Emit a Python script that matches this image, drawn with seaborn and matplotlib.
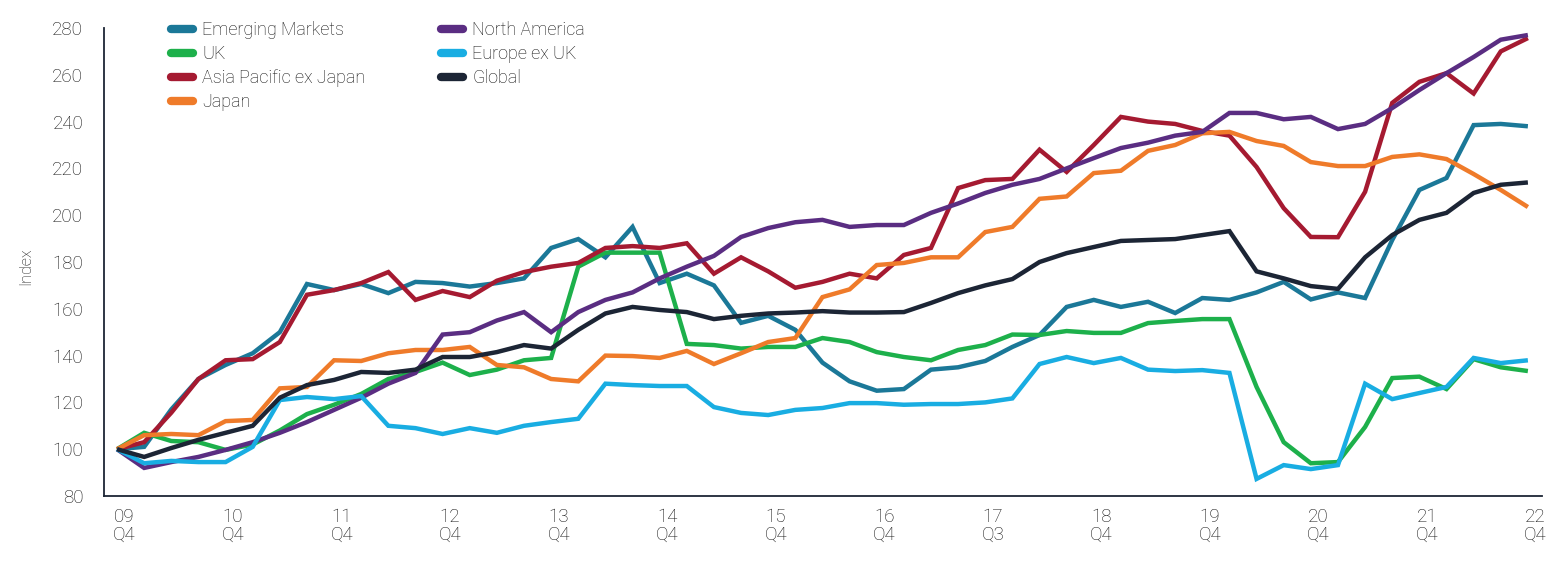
import numpy as np
import pandas as pd
import matplotlib
matplotlib.use("Agg")
import matplotlib.pyplot as plt
import seaborn as sns
from matplotlib.lines import Line2D
from matplotlib.transforms import ScaledTranslation

emerging = [100, 101, 117, 130, 136, 141, 150, 170.6, 168, 170.6, 166.7, 171.5, 171, 169.5, 171, 173, 186, 189.8, 182, 195,
            171, 175, 170, 154, 157, 151, 137, 129, 125, 125.7, 134, 135, 137.7, 143.7, 148.8, 160.8, 163.8, 160.8, 163, 158.2,
            164.6, 163.8, 167, 171.5, 164, 167, 164.6, 189.4, 210.8, 215.9, 238.5, 239, 238]
uk = [100, 107, 103.5, 103, 99.7, 102, 108, 115, 119, 123.6, 130, 133, 137, 131.7, 134, 138, 139, 178, 184, 184,
      184, 145, 144.5, 143, 143.7, 143.7, 147.5, 145.8, 141.5, 139.4, 138, 142.4, 144.5, 149, 148.8, 150.5, 149.7, 149.7, 153.9, 154.8,
      155.6, 155.6, 126.6, 103, 94, 94.5, 109.5, 130.4, 131, 125.7, 138.5, 135, 133.4]
asia_pac = [100, 103, 115.6, 130, 138, 138.5, 145.8, 166, 168, 171, 175.7, 163.8, 167.6, 165, 172, 175.7, 178, 179.6, 186, 186.8,
            186, 188, 175, 182, 176, 169, 171.5, 175, 173, 183, 186, 211.6, 215, 215.5, 228, 218.5, 230, 242, 240, 239,
            236, 234, 220.6, 203, 190.7, 190.6, 210, 248, 257, 260.7, 252, 270, 275.7]
japan = [100, 106, 106.5, 106, 112, 112.5, 126, 126.6, 138, 137.7, 141, 142.4, 142.4, 143.7, 136, 135, 130, 129, 140, 139.8,
         139, 142, 136.4, 141, 145.8, 147.5, 165, 168.3, 178.7, 179.6, 182, 182, 192.8, 195, 207, 208, 218, 219, 227.5, 230,
         235, 235.6, 231.7, 229.6, 222.7, 221, 221, 224.9, 226, 224, 217.6, 210.8, 203.5]
north_america = [100, 92, 94.5, 96.7, 99.7, 103, 107, 111.6, 116.8, 122, 128, 132.6, 149, 150, 155, 158.6, 150, 158.6, 163.8, 167,
                 173, 178, 182.6, 190.7, 194.5, 197, 198, 195, 195.8, 195.8, 201, 205, 209.5, 213, 215.5, 220, 224.4, 228.7, 231, 234,
                 235.6, 243.7, 243.7, 241, 242, 236.8, 239, 245.8, 253.5, 260.7, 267.6, 275, 277]
europe_ex_uk = [100, 94, 95, 94.5, 94.5, 101, 121, 122.3, 121.4, 122.7, 110, 109, 106.5, 109, 107, 110, 111.6, 113, 128, 127.4,
                127, 127, 118, 115.5, 114.6, 116.8, 117.6, 119.7, 119.7, 119, 119.3, 119.3, 120, 121.7, 136.4, 139.4, 136.8, 139, 134, 133.4,
                133.8, 132.6, 87.3, 93.2, 91.5, 93.2, 128, 121.4, 124, 126.6, 139, 136.8, 138]
global_ = [100, 96.7, 100.5, 104, 107, 110, 122, 127.4, 129.6, 133, 132.6, 134, 139.4, 139.4, 141.5, 144.5, 143, 151, 158, 160.8,
           159.5, 158.6, 155.6, 157, 158, 158.4, 159, 158.4, 158.4, 158.6, 162.5, 166.7, 170, 172.7, 180, 183.8, 186.4, 189, 189.4, 189.8,
           191.5, 193.2, 176, 173, 169.7, 168.5, 182, 191.5, 198, 201, 209.5, 213, 214]

series_names = ["Emerging Markets", "UK", "Asia Pacific ex Japan", "Japan",
                "North America", "Europe ex UK", "Global"]
series_values = [emerging, uk, asia_pac, japan, north_america, europe_ex_uk, global_]
colors = ["#1b7898", "#1db04b", "#a51a31", "#ef7b2a", "#5a2d82", "#19ade2", "#1c2535"]

tick_positions = list(range(0, 53, 4))
tick_labels = ["09\nQ4", "10\nQ4", "11\nQ4", "12\nQ4", "13\nQ4", "14\nQ4", "15\nQ4",
               "16\nQ4", "17\nQ3", "18\nQ4", "19\nQ4", "20\nQ4", "21\nQ4", "22\nQ4"]
y_ticks = list(range(80, 281, 20))

rows = []
for name, vals in zip(series_names, series_values):
    for i, v in enumerate(vals):
        rows.append({"idx": i, "value": v, "series": name})
df = pd.DataFrame(rows)

sns.set_theme(style="white")
plt.rcParams["font.family"] = ["Roboto", "DejaVu Sans"]
plt.rcParams["font.weight"] = "light"
text_color = "#111111"

fig = plt.figure(figsize=(15.63, 5.78), dpi=100)
ax = fig.add_axes([104 / 1563, 1 - 496 / 578, (1542 - 104) / 1563, (496 - 28) / 578])

sns.lineplot(data=df, x="idx", y="value", hue="series", hue_order=series_names,
             palette=colors, linewidth=3.2, ax=ax, legend=False, sort=False)
for ln in ax.get_lines():
    ln.set_solid_joinstyle("miter")
    ln.set_solid_capstyle("butt")

ax.set_xlim(-0.48, 52.52)
ax.set_ylim(80, 280)
ax.set_xticks(tick_positions)
ax.set_xticklabels(tick_labels, fontsize=13.5, color=text_color, fontweight="light",
                   linespacing=0.95)
ax.set_yticks(y_ticks)
ax.set_yticklabels([str(t) for t in y_ticks], fontsize=13.5, color=text_color, fontweight="light")
ax.tick_params(axis="y", length=0, pad=15)
ax.tick_params(axis="x", length=0, pad=9)
offset = ScaledTranslation(7.5 / 100, 0, fig.dpi_scale_trans)
for lab in ax.get_xticklabels():
    lab.set_transform(lab.get_transform() + offset)
ax.set_xlabel("")
ax.set_ylabel("Index", fontsize=11.5, color=text_color, fontweight="light")
ax.yaxis.set_label_coords((33 - 104) / 1438, (496 - 266) / 468)
for side in ("top", "right"):
    ax.spines[side].set_visible(False)
for side in ("left", "bottom"):
    ax.spines[side].set_color("#1c2535")
    ax.spines[side].set_linewidth(1.3)

handles = [Line2D([0], [0], color=c, lw=6, solid_capstyle="round") for c in colors]
leg = ax.legend(handles, series_names, loc="upper left", ncol=2, frameon=False,
                bbox_to_anchor=((171 - 104) / 1438, (496 - 21) / 468),
                borderaxespad=0, borderpad=0,
                fontsize=13, handlelength=1.22, handletextpad=0.5,
                columnspacing=4.2, labelspacing=0.33)
for t in leg.get_texts():
    t.set_color(text_color)
    t.set_fontweight("light")

fig.savefig("out.png", dpi=100, facecolor="white")
